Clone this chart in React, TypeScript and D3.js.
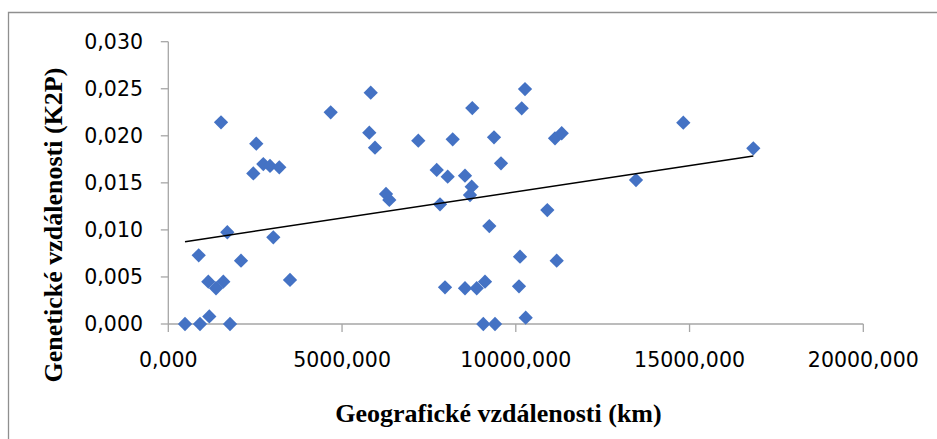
import React from "react";
import * as d3 from "d3";

// Geographic distance (km)
const geoDistance: number[] = [
  481, 912, 1180, 1776, 875, 1151, 1373, 1583, 1698, 2092,
  1517, 2532, 2446, 2734, 2927, 3194, 3022, 3502, 4673, 5825,
  5784, 5948, 7194, 6265, 6360, 7724, 8040, 8538, 8731, 8682,
  7819, 9574, 8184, 8748, 9373, 10265, 10170, 11128, 11321, 14820,
  13459, 16835, 9238, 10907, 10121, 11177, 7963, 8538, 8875, 9114,
  10092, 9065, 9402, 10285,
];
// Genetic distance (K2P)
const genDistance: number[] = [
  0, 0, 0.0008, 0, 0.0073, 0.0045, 0.0038, 0.0045, 0.00975, 0.00673,
  0.02143, 0.01916, 0.016, 0.017, 0.0168, 0.01665, 0.00921, 0.00468, 0.0225, 0.02458,
  0.02033, 0.01874, 0.01948, 0.01382, 0.01318, 0.01637, 0.01565, 0.01576, 0.01459, 0.01371,
  0.01272, 0.01708, 0.01963, 0.02295, 0.01984, 0.02497, 0.02292, 0.01973, 0.02027, 0.02139,
  0.0153, 0.01867, 0.01041, 0.01211, 0.00715, 0.00673, 0.0039, 0.0038, 0.0038, 0.0045,
  0.004, 0, 0, 0.00067,
];
// Linear trend line (intercept, slope)
const trendIntercept = 0.00847;
const trendSlope = 5.574e-7;

const xTicks: number[] = [0, 5000, 10000, 15000, 20000];
const xTickLabels: string[] = ["0,000", "5000,000", "10000,000", "15000,000", "20000,000"];
const yTicks: number[] = [0, 0.005, 0.01, 0.015, 0.02, 0.025, 0.03];
const yTickLabels: string[] = ["0,000", "0,005", "0,010", "0,015", "0,020", "0,025", "0,030"];

const xTitle = "Geografické vzdálenosti (km)";
const yTitle = "Genetické vzdálenosti (K2P)";

export default function App() {
  const W = 937;
  const H = 439;
  const x = d3.scaleLinear().domain([0, 20000]).range([168.3, 863.3]);
  const y = d3.scaleLinear().domain([0, 0.03]).range([324, 41.7]);
  const axisColor = "#a6a6a6";
  const diamond = d3.symbol().type(d3.symbolDiamond2).size(130)();

  const xMin = d3.min(geoDistance) as number;
  const xMax = d3.max(geoDistance) as number;
  const trend = d3
    .line<number>()
    .x((d) => x(d))
    .y((d) => y(trendIntercept + trendSlope * d))([xMin, xMax]);

  const tickFont = "'DejaVu Sans', sans-serif";
  const titleFont = "'Liberation Serif', 'Times New Roman', serif";

  return (
    <svg
      width={W}
      height={H}
      style={{ position: "absolute", left: 0, top: 0, background: "#fff" }}
    >
      <rect x={0} y={0} width={W} height={H} fill="#fff" />
      {/* chart border */}
      <path d={`M8.5,${H + 5} V12.5 H${W + 5}`} fill="none" stroke="#8f8f8f" strokeWidth={1.3} />

      {/* y axis */}
      <line x1={x(0)} x2={x(0)} y1={y(0.03)} y2={y(0)} stroke={axisColor} strokeWidth={1.3} />
      {yTicks.map((t, i) => (
        <g key={"yt" + i}>
          <line x1={x(0) - 7.5} x2={x(0)} y1={y(t)} y2={y(t)} stroke={axisColor} strokeWidth={1.3} />
          <text
            x={143}
            y={y(t)}
            dy="0.36em"
            textAnchor="end"
            fontFamily={tickFont}
            fontSize={20.5}
            fill="#000"
          >
            {yTickLabels[i]}
          </text>
        </g>
      ))}

      {/* x axis */}
      <line x1={x(0)} x2={x(20000)} y1={y(0)} y2={y(0)} stroke={axisColor} strokeWidth={1.3} />
      {xTicks.map((t, i) => (
        <g key={"xt" + i}>
          <line x1={x(t)} x2={x(t)} y1={y(0)} y2={y(0) + 8} stroke={axisColor} strokeWidth={1.3} />
          <text
            x={x(t)}
            y={367}
            textAnchor="middle"
            fontFamily={tickFont}
            fontSize={20.5}
            fill="#000"
          >
            {xTickLabels[i]}
          </text>
        </g>
      ))}

      {/* points */}
      {geoDistance.map((g, i) => (
        <path
          key={"p" + i}
          d={diamond as string}
          transform={`translate(${x(g)},${y(genDistance[i])})`}
          fill="#4472c4"
        />
      ))}

      {/* trend line */}
      <path d={trend as string} fill="none" stroke="#000" strokeWidth={1.5} />

      {/* titles */}
      <text
        x={498.5}
        y={421.5}
        textAnchor="middle"
        fontFamily={titleFont}
        fontWeight="bold"
        fontSize={26}
        fill="#000"
      >
        {xTitle}
      </text>
      <text
        transform="translate(61.5,225) rotate(-90)"
        textAnchor="middle"
        fontFamily={titleFont}
        fontWeight="bold"
        fontSize={26}
        fill="#000"
      >
        {yTitle}
      </text>
    </svg>
  );
}
